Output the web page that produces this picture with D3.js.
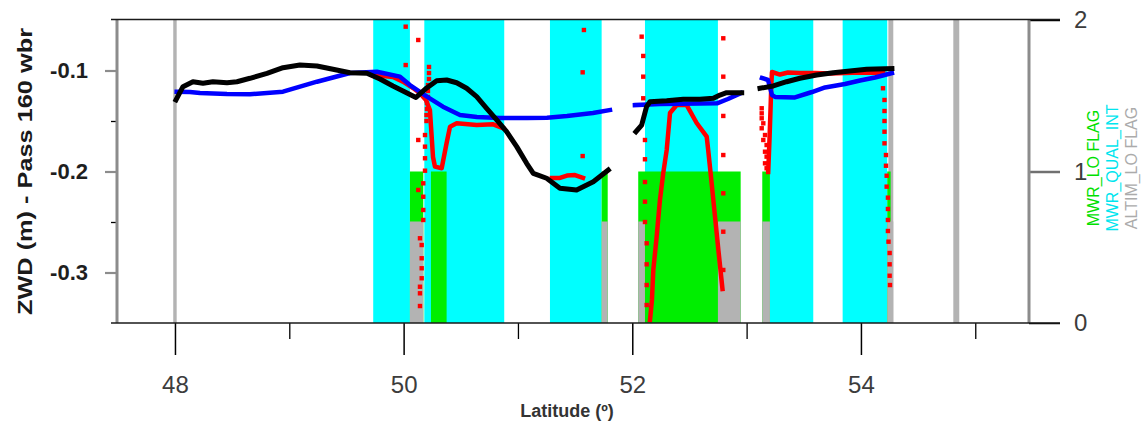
<!DOCTYPE html>
<html>
<head>
<meta charset="utf-8">
<script src="https://cdn.jsdelivr.net/npm/d3@7"></script>
<style>
  body { margin: 0; background: #fff; }
  svg { display: block; }
  text { font-family: "Liberation Sans", Arial, sans-serif; }
</style>
</head>
<body>
<svg id="chart" width="1145" height="425"></svg>
<script>
// ---- Axis ticks ----
const latTicks = [48, 50, 52, 54];
const latMinorTicks = [49, 51, 53, 55];
const zwdTicks = [-0.1, -0.2, -0.3];
const zwdMinorTicks = [-0.15, -0.25];
const flagTicks = [0, 1, 2];

// ---- Flag levels (right axis) ----
const qualIntLevel = 2;
const loFlagLevel = 1;
const altimLoLevel = 0.67;
const altimFullLevel = 2;

// ---- Flag latitude ranges [start, end] ----
const qualIntRanges = [[49.734, 50.055], [50.181, 50.880], [51.280, 51.732], [52.111, 52.749], [53.204, 53.583], [53.840, 54.230]];
const loFlagRanges = [[50.055, 50.172], [50.239, 50.376], [51.732, 51.785], [52.052, 52.948], [53.137, 53.204], [54.230, 54.260]];
const altimLoRanges = [[50.055, 50.172], [51.732, 51.785], [52.052, 52.111], [52.749, 52.948], [53.137, 53.204], [54.230, 54.283]];
const altimFullRanges = [[47.985, 48.015], [54.240, 54.283], [54.808, 54.860]];

// ---- ZWD series [latitude, ZWD m] ----
const modelZwd = [
  [[48.009, -0.1292], [48.070, -0.1160], [48.157, -0.1111], [48.245, -0.1127], [48.332, -0.1111], [48.455, -0.1121], [48.542, -0.1111], [48.656, -0.1077], [48.805, -0.1028], [48.945, -0.0972], [49.093, -0.0946], [49.242, -0.0955], [49.382, -0.0988], [49.531, -0.1022], [49.679, -0.1028], [49.793, -0.1084], [49.907, -0.1153], [50.012, -0.1213], [50.108, -0.1267], [50.202, -0.1173], [50.289, -0.1101], [50.377, -0.1094], [50.464, -0.1121], [50.551, -0.1176], [50.639, -0.1259], [50.726, -0.1374], [50.814, -0.1490], [50.901, -0.1606], [50.989, -0.1754], [51.076, -0.1919], [51.134, -0.2018], [51.251, -0.2067], [51.367, -0.2166], [51.513, -0.2183], [51.659, -0.2101], [51.790, -0.1985]],
  [[52.032, -0.1606], [52.082, -0.1540], [52.125, -0.1358], [52.155, -0.1309], [52.301, -0.1299], [52.446, -0.1285], [52.592, -0.1285], [52.709, -0.1275], [52.767, -0.1243], [52.825, -0.1220], [52.957, -0.1220]],
  [[53.117, -0.1176], [53.233, -0.1153], [53.350, -0.1111], [53.466, -0.1077], [53.613, -0.1045], [53.758, -0.1022], [53.904, -0.1005], [54.050, -0.0988], [54.271, -0.0980]]
];

const gpdZwd = [
  [[48.015, -0.1210], [48.131, -0.1213], [48.219, -0.1223], [48.455, -0.1233], [48.656, -0.1236], [48.945, -0.1210], [49.242, -0.1111], [49.531, -0.1025], [49.767, -0.1012], [49.968, -0.1061], [50.055, -0.1144], [50.204, -0.1259], [50.344, -0.1358], [50.493, -0.1441], [50.641, -0.1460], [50.843, -0.1470], [51.079, -0.1470], [51.254, -0.1467], [51.429, -0.1450], [51.656, -0.1421], [51.805, -0.1391]],
  [[52.023, -0.1342], [52.242, -0.1332], [52.592, -0.1327], [52.741, -0.1325], [52.837, -0.1282], [52.951, -0.1223]],
  [[53.134, -0.1074], [53.187, -0.1094], [53.222, -0.1243], [53.249, -0.1262], [53.423, -0.1267], [53.572, -0.1213], [53.686, -0.1168], [53.861, -0.1134], [53.992, -0.1099], [54.123, -0.1069], [54.271, -0.1025]]
];

const mwrZwd = [
  [[49.732, -0.1045], [49.907, -0.1064], [49.994, -0.1111], [50.082, -0.1173], [50.143, -0.1226], [50.195, -0.1292], [50.230, -0.1391], [50.257, -0.1856], [50.274, -0.1952], [50.333, -0.1968], [50.376, -0.1718], [50.406, -0.1556], [50.464, -0.1523], [50.639, -0.1540], [50.784, -0.1533], [50.872, -0.1572]],
  [[51.297, -0.2064], [51.367, -0.2064], [51.429, -0.2040], [51.499, -0.2035], [51.569, -0.2064]],
  [[52.155, -0.3470], [52.172, -0.3272], [52.184, -0.2975], [52.213, -0.2649], [52.242, -0.2282], [52.271, -0.2015], [52.301, -0.1787], [52.330, -0.1421], [52.388, -0.1342], [52.476, -0.1342], [52.563, -0.1520], [52.651, -0.1655], [52.664, -0.1787], [52.694, -0.2114], [52.724, -0.2450], [52.753, -0.2777], [52.789, -0.3163]],
  [[53.189, -0.2005], [53.200, -0.1688], [53.209, -0.1391], [53.216, -0.1144], [53.222, -0.1015], [53.292, -0.1040], [53.362, -0.1020], [53.466, -0.1025], [53.597, -0.1025], [53.729, -0.1030], [53.992, -0.1020], [54.194, -0.1025]]
];

// Isolated MWR samples away from the continuous track
const mwrScatter = [
  [50.018, -0.0566], [50.018, -0.0946], [50.128, -0.0698], [50.128, -0.1688],
  [50.222, -0.0965], [50.222, -0.1025], [50.222, -0.1084], [50.213, -0.1144], [50.213, -0.1203], [50.213, -0.1262], [50.204, -0.1322], [50.204, -0.1381], [50.200, -0.1441], [50.200, -0.1500],
  [50.187, -0.1639], [50.187, -0.1754], [50.187, -0.1869], [50.187, -0.1992], [50.172, -0.2117], [50.128, -0.2183], [50.172, -0.2250], [50.172, -0.2381], [50.172, -0.2480], [50.143, -0.2661], [50.158, -0.2728], [50.158, -0.2859], [50.158, -0.2958], [50.158, -0.3057], [50.143, -0.3141], [50.143, -0.3206], [50.143, -0.3332],
  [51.577, -0.0599], [51.566, -0.1018], [51.566, -0.1847],
  [52.082, -0.0665], [52.096, -0.0856], [52.096, -0.1061], [52.096, -0.1275], [52.111, -0.1688], [52.111, -0.1879], [52.111, -0.2104], [52.111, -0.2299], [52.111, -0.2500], [52.126, -0.2711], [52.126, -0.2919], [52.126, -0.3124], [52.126, -0.3322],
  [52.796, -0.0681], [52.796, -0.1061], [52.796, -0.1450], [52.796, -0.1837], [52.796, -0.2216], [52.796, -0.2596], [52.796, -0.2975],
  [53.132, -0.1374], [53.132, -0.1424], [53.132, -0.1473], [53.146, -0.1523], [53.132, -0.1572], [53.161, -0.1639], [53.146, -0.1688], [53.175, -0.1738], [53.161, -0.1804], [53.175, -0.1853], [53.161, -0.1919], [53.175, -0.1968],
  [54.193, -0.1176], [54.206, -0.1292], [54.206, -0.1401], [54.206, -0.1500], [54.206, -0.1606], [54.206, -0.1721], [54.219, -0.1837], [54.219, -0.1943], [54.225, -0.2042], [54.225, -0.2150], [54.236, -0.2259], [54.236, -0.2371], [54.236, -0.2480], [54.236, -0.2589], [54.241, -0.2695], [54.251, -0.2807], [54.251, -0.2919], [54.251, -0.3032], [54.254, -0.3124]
];

const yTitle = "ZWD (m) - Pass 160 wbr";
const xTitle = "Latitude (º)";
const flagLabels = [
  { text: "MWR_LO FLAG", color: "#00e000" },
  { text: "MWR_QUAL_INT", color: "#00e5ee" },
  { text: "ALTIM_LO FLAG", color: "#ababab" }
];

// ---- Scales ----
const svg = d3.select("#chart");
const x = d3.scaleLinear().domain([47.493, 55.47]).range([117, 1029]);
const y = d3.scaleLinear().domain([-0.35, -0.05]).range([323, 20]);
const yFlag = d3.scaleLinear().domain([0, 2]).range([323, 20]);

const plotTop = yFlag(2), plotBottom = yFlag(0);

// ---- Flag bars ----
function bars(ranges, level, color) {
  svg.append("g").selectAll("rect").data(ranges).join("rect")
    .attr("x", d => x(d[0]))
    .attr("width", d => x(d[1]) - x(d[0]))
    .attr("y", yFlag(level))
    .attr("height", yFlag(0) - yFlag(level))
    .attr("fill", color);
}
bars(altimFullRanges, altimFullLevel, "#b3b3b3");
bars(qualIntRanges, qualIntLevel, "#00ffff");
bars(loFlagRanges, loFlagLevel, "#00ee00");
bars(altimLoRanges, altimLoLevel, "#b3b3b3");

// ---- Series ----
const line = d3.line().x(d => x(d[0])).y(d => y(d[1]));

function track(segments, color, width) {
  svg.append("g").selectAll("path").data(segments).join("path")
    .attr("d", line)
    .attr("fill", "none")
    .attr("stroke", color)
    .attr("stroke-width", width)
    .attr("stroke-linejoin", "round")
    .attr("stroke-linecap", "square");
}

track(mwrZwd, "#ff0000", 4.5);
svg.append("g").selectAll("rect").data(mwrScatter).join("rect")
  .attr("x", d => x(d[0]) - 2.2)
  .attr("y", d => y(d[1]) - 2.2)
  .attr("width", 4.4)
  .attr("height", 4.4)
  .attr("fill", "#ff0000");
track(gpdZwd, "#0000ff", 4.5);
track(modelZwd, "#000000", 5);

// ---- Axes ----
const bottom = svg.append("g").attr("transform", `translate(0,${plotBottom})`)
  .call(d3.axisBottom(x).tickValues(latTicks).tickSize(32).tickSizeOuter(0).tickPadding(21).tickFormat(d3.format("d")));
bottom.select(".domain").remove();
bottom.selectAll(".tick line").attr("stroke", "#000").attr("stroke-width", 1.5);
bottom.selectAll(".tick text").attr("font-size", 24).attr("fill", "#3c3c3c");

const bottomMinor = svg.append("g").attr("transform", `translate(0,${plotBottom})`)
  .call(d3.axisBottom(x).tickValues(latMinorTicks).tickSize(16).tickSizeOuter(0).tickFormat(""));
bottomMinor.select(".domain").remove();
bottomMinor.selectAll(".tick line").attr("stroke", "#000").attr("stroke-width", 1.3);

const left = svg.append("g").attr("transform", `translate(${x.range()[0]},0)`)
  .call(d3.axisLeft(y).tickValues(zwdTicks).tickSize(12).tickSizeOuter(0).tickPadding(17).tickFormat(d3.format(".1f")));
left.select(".domain").remove();
left.selectAll(".tick line").attr("stroke", "#8c8c8c").attr("stroke-width", 2.2);
left.selectAll(".tick text").attr("font-size", 22).attr("font-weight", "bold").attr("fill", "#1e1e1e")
  .text(d => d3.format(".1f")(d).replace("−", "-"));

const leftMinor = svg.append("g").attr("transform", `translate(${x.range()[0]},0)`)
  .call(d3.axisLeft(y).tickValues(zwdMinorTicks).tickSize(6).tickSizeOuter(0).tickFormat(""));
leftMinor.select(".domain").remove();
leftMinor.selectAll(".tick line").attr("stroke", "#000").attr("stroke-width", 1.3);

const right = svg.append("g").attr("transform", `translate(${x.range()[1]},0)`)
  .call(d3.axisRight(yFlag).tickValues(flagTicks).tickSize(31).tickSizeOuter(0).tickPadding(14).tickFormat(d3.format("d")));
right.select(".domain").remove();
right.selectAll(".tick line").attr("stroke", d => d === 1 ? "#707070" : "#000").attr("stroke-width", d => d === 1 ? 2.5 : 1.5);
right.selectAll(".tick text").attr("font-size", 24).attr("fill", "#3c3c3c");

// Frame: grey vertical axes, black top and bottom rules
svg.append("line").attr("x1", x.range()[0]).attr("x2", x.range()[0]).attr("y1", plotTop).attr("y2", plotBottom)
  .attr("stroke", "#8c8c8c").attr("stroke-width", 3);
svg.append("line").attr("x1", x.range()[1]).attr("x2", x.range()[1]).attr("y1", plotTop).attr("y2", plotBottom)
  .attr("stroke", "#8c8c8c").attr("stroke-width", 3);
svg.append("line").attr("x1", 111).attr("x2", 1060).attr("y1", plotTop - 0.5).attr("y2", plotTop - 0.5)
  .attr("stroke", "#1a1a1a").attr("stroke-width", 1.6);
svg.append("line").attr("x1", 111).attr("x2", 1060).attr("y1", plotBottom).attr("y2", plotBottom)
  .attr("stroke", "#1a1a1a").attr("stroke-width", 1.6);

// ---- Titles ----
svg.append("text")
  .attr("transform", `translate(32,${(plotTop + plotBottom) / 2}) rotate(-90)`)
  .attr("text-anchor", "middle")
  .attr("font-size", 21).attr("font-weight", "bold").attr("fill", "#1a1a1a")
  .attr("textLength", 287).attr("lengthAdjust", "spacingAndGlyphs")
  .text(yTitle);

svg.append("text")
  .attr("x", (x.range()[0] + x.range()[1]) / 2 - 6)
  .attr("y", 417)
  .attr("text-anchor", "middle")
  .attr("font-size", 18).attr("font-weight", "bold").attr("fill", "#333")
  .text(xTitle);

svg.append("g").selectAll("text").data(flagLabels).join("text")
  .attr("transform", (d, i) => `translate(${1099 + i * 19},168) rotate(-90)`)
  .attr("text-anchor", "middle")
  .attr("font-size", 16)
  .attr("fill", d => d.color)
  .text(d => d.text);
</script>
</body>
</html>
